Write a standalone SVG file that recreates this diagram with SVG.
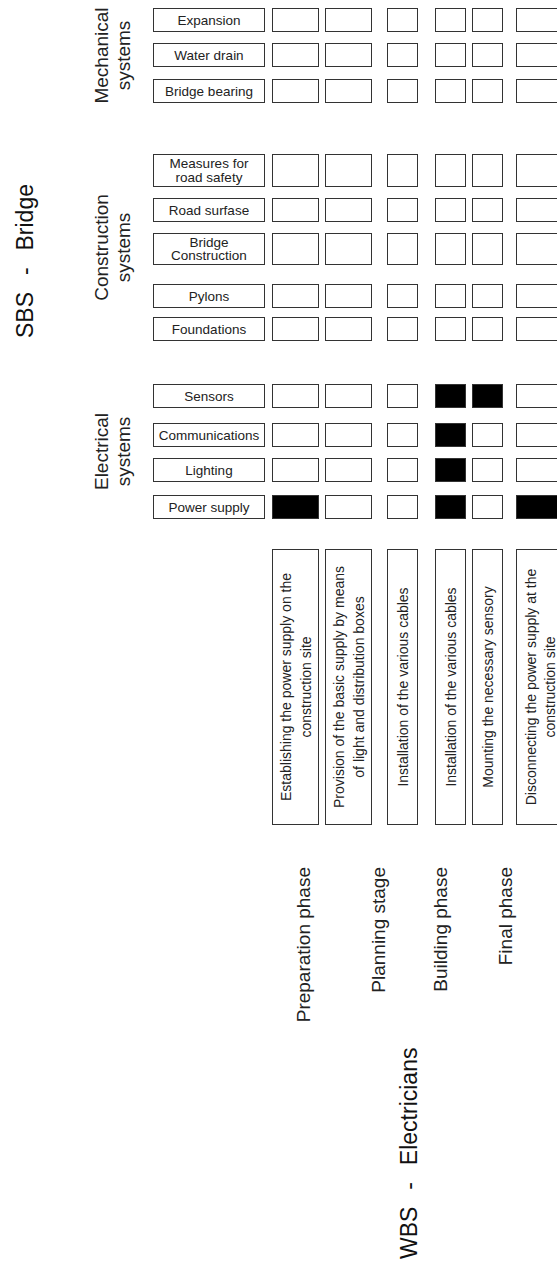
<svg xmlns="http://www.w3.org/2000/svg" width="557" height="1262" viewBox="0 0 557 1262">
<style>
text{font-family:"Liberation Sans",Arial,Helvetica,sans-serif;fill:#222}
.box{fill:#fff;stroke:#333;stroke-width:1}
.on{fill:#000;stroke:#333;stroke-width:1}
.lbl{font-size:13.5px;text-anchor:middle}
.task{font-size:14px;text-anchor:middle}
.grp{font-size:19px;text-anchor:middle}
.phase{font-size:19px;text-anchor:end}
.ttl{font-size:23px;fill:#111}
</style>
<rect width="557" height="1262" fill="#fff"/>

<g id="titles">
<text id="sbs-title" class="ttl" transform="translate(0,338) rotate(-90)" y="33">SBS<tspan dx="10.5"> -</tspan><tspan dx="10.5"> Bridge</tspan></text>
<text id="wbs-title" class="ttl" transform="translate(0,1259) rotate(-90)" y="417">WBS<tspan dx="10.5"> -</tspan><tspan dx="10.5"> Electricians</tspan></text>
</g>

<g id="groups">
<text id="grp-mech" class="grp" transform="translate(0,55.5) rotate(-90)"><tspan x="0" y="108">Mechanical</tspan><tspan x="0" y="130">systems</tspan></text>
<text id="grp-constr" class="grp" transform="translate(0,247.5) rotate(-90)"><tspan x="0" y="108">Construction</tspan><tspan x="0" y="130">systems</tspan></text>
<text id="grp-elec" class="grp" transform="translate(0,451.5) rotate(-90)"><tspan x="0" y="108">Electrical</tspan><tspan x="0" y="130">systems</tspan></text>
</g>

<g id="row-labels">
<g id="row-expansion"><rect class="box" x="153.5" y="8.5" width="111" height="23"/><text class="lbl" x="209" y="24.8">Expansion</text></g>
<g id="row-waterdrain"><rect class="box" x="153.5" y="43.5" width="111" height="23"/><text class="lbl" x="209" y="59.8">Water drain</text></g>
<g id="row-bearing"><rect class="box" x="153.5" y="79.5" width="111" height="23"/><text class="lbl" x="209" y="95.8">Bridge bearing</text></g>
<g id="row-measures"><rect class="box" x="153.5" y="154.5" width="111" height="32"/><text class="lbl"><tspan x="209" y="168">Measures for</tspan><tspan x="209" y="181.5">road safety</tspan></text></g>
<g id="row-road"><rect class="box" x="153.5" y="198.5" width="111" height="23"/><text class="lbl" x="209" y="214.8">Road surfase</text></g>
<g id="row-bridgeconstr"><rect class="box" x="153.5" y="233.5" width="111" height="31"/><text class="lbl"><tspan x="209" y="246.5">Bridge</tspan><tspan x="209" y="260">Construction</tspan></text></g>
<g id="row-pylons"><rect class="box" x="153.5" y="284.5" width="111" height="23"/><text class="lbl" x="209" y="300.8">Pylons</text></g>
<g id="row-foundations"><rect class="box" x="153.5" y="317.5" width="111" height="23"/><text class="lbl" x="209" y="333.8">Foundations</text></g>
<g id="row-sensors"><rect class="box" x="153.5" y="384.5" width="111" height="23"/><text class="lbl" x="209" y="400.8">Sensors</text></g>
<g id="row-comm"><rect class="box" x="153.5" y="423.5" width="111" height="23"/><text class="lbl" x="209" y="439.8">Communications</text></g>
<g id="row-lighting"><rect class="box" x="153.5" y="458.5" width="111" height="23"/><text class="lbl" x="209" y="474.8">Lighting</text></g>
<g id="row-power"><rect class="box" x="153.5" y="495.5" width="111" height="23"/><text class="lbl" x="209" y="511.8">Power supply</text></g>
</g>

<g id="cells">
<g id="cells-expansion">
<rect class="box" x="272.5" y="8.5" width="46" height="23"/><rect class="box" x="325.5" y="8.5" width="46" height="23"/><rect class="box" x="387.5" y="8.5" width="30" height="23"/><rect class="box" x="435.5" y="8.5" width="30" height="23"/><rect class="box" x="472.5" y="8.5" width="30" height="23"/><rect class="box" x="516.5" y="8.5" width="46" height="23"/>
</g>
<g id="cells-waterdrain">
<rect class="box" x="272.5" y="43.5" width="46" height="23"/><rect class="box" x="325.5" y="43.5" width="46" height="23"/><rect class="box" x="387.5" y="43.5" width="30" height="23"/><rect class="box" x="435.5" y="43.5" width="30" height="23"/><rect class="box" x="472.5" y="43.5" width="30" height="23"/><rect class="box" x="516.5" y="43.5" width="46" height="23"/>
</g>
<g id="cells-bearing">
<rect class="box" x="272.5" y="79.5" width="46" height="23"/><rect class="box" x="325.5" y="79.5" width="46" height="23"/><rect class="box" x="387.5" y="79.5" width="30" height="23"/><rect class="box" x="435.5" y="79.5" width="30" height="23"/><rect class="box" x="472.5" y="79.5" width="30" height="23"/><rect class="box" x="516.5" y="79.5" width="46" height="23"/>
</g>
<g id="cells-measures">
<rect class="box" x="272.5" y="154.5" width="46" height="32"/><rect class="box" x="325.5" y="154.5" width="46" height="32"/><rect class="box" x="387.5" y="154.5" width="30" height="32"/><rect class="box" x="435.5" y="154.5" width="30" height="32"/><rect class="box" x="472.5" y="154.5" width="30" height="32"/><rect class="box" x="516.5" y="154.5" width="46" height="32"/>
</g>
<g id="cells-road">
<rect class="box" x="272.5" y="198.5" width="46" height="23"/><rect class="box" x="325.5" y="198.5" width="46" height="23"/><rect class="box" x="387.5" y="198.5" width="30" height="23"/><rect class="box" x="435.5" y="198.5" width="30" height="23"/><rect class="box" x="472.5" y="198.5" width="30" height="23"/><rect class="box" x="516.5" y="198.5" width="46" height="23"/>
</g>
<g id="cells-bridgeconstr">
<rect class="box" x="272.5" y="233.5" width="46" height="31"/><rect class="box" x="325.5" y="233.5" width="46" height="31"/><rect class="box" x="387.5" y="233.5" width="30" height="31"/><rect class="box" x="435.5" y="233.5" width="30" height="31"/><rect class="box" x="472.5" y="233.5" width="30" height="31"/><rect class="box" x="516.5" y="233.5" width="46" height="31"/>
</g>
<g id="cells-pylons">
<rect class="box" x="272.5" y="284.5" width="46" height="23"/><rect class="box" x="325.5" y="284.5" width="46" height="23"/><rect class="box" x="387.5" y="284.5" width="30" height="23"/><rect class="box" x="435.5" y="284.5" width="30" height="23"/><rect class="box" x="472.5" y="284.5" width="30" height="23"/><rect class="box" x="516.5" y="284.5" width="46" height="23"/>
</g>
<g id="cells-foundations">
<rect class="box" x="272.5" y="317.5" width="46" height="23"/><rect class="box" x="325.5" y="317.5" width="46" height="23"/><rect class="box" x="387.5" y="317.5" width="30" height="23"/><rect class="box" x="435.5" y="317.5" width="30" height="23"/><rect class="box" x="472.5" y="317.5" width="30" height="23"/><rect class="box" x="516.5" y="317.5" width="46" height="23"/>
</g>
<g id="cells-sensors">
<rect class="box" x="272.5" y="384.5" width="46" height="23"/><rect class="box" x="325.5" y="384.5" width="46" height="23"/><rect class="box" x="387.5" y="384.5" width="30" height="23"/><rect class="on" x="435.5" y="384.5" width="30" height="23"/><rect class="on" x="472.5" y="384.5" width="30" height="23"/><rect class="box" x="516.5" y="384.5" width="46" height="23"/>
</g>
<g id="cells-comm">
<rect class="box" x="272.5" y="423.5" width="46" height="23"/><rect class="box" x="325.5" y="423.5" width="46" height="23"/><rect class="box" x="387.5" y="423.5" width="30" height="23"/><rect class="on" x="435.5" y="423.5" width="30" height="23"/><rect class="box" x="472.5" y="423.5" width="30" height="23"/><rect class="box" x="516.5" y="423.5" width="46" height="23"/>
</g>
<g id="cells-lighting">
<rect class="box" x="272.5" y="458.5" width="46" height="23"/><rect class="box" x="325.5" y="458.5" width="46" height="23"/><rect class="box" x="387.5" y="458.5" width="30" height="23"/><rect class="on" x="435.5" y="458.5" width="30" height="23"/><rect class="box" x="472.5" y="458.5" width="30" height="23"/><rect class="box" x="516.5" y="458.5" width="46" height="23"/>
</g>
<g id="cells-power">
<rect class="on" x="272.5" y="495.5" width="46" height="23"/><rect class="box" x="325.5" y="495.5" width="46" height="23"/><rect class="box" x="387.5" y="495.5" width="30" height="23"/><rect class="on" x="435.5" y="495.5" width="30" height="23"/><rect class="box" x="472.5" y="495.5" width="30" height="23"/><rect class="on" x="516.5" y="495.5" width="46" height="23"/>
</g>
</g>

<g id="tasks">
<g id="task-1"><rect class="box" x="272.5" y="549.5" width="46" height="275"/><text class="task" transform="translate(295.5,687) rotate(-90)"><tspan x="0" y="-5">Establishing the power supply on the</tspan><tspan x="0" y="15">construction site</tspan></text></g>
<g id="task-2"><rect class="box" x="325.5" y="549.5" width="46" height="275"/><text class="task" transform="translate(348.5,687) rotate(-90)"><tspan x="0" y="-5">Provision of the basic supply by means</tspan><tspan x="0" y="15">of light and distribution boxes</tspan></text></g>
<g id="task-3"><rect class="box" x="387.5" y="549.5" width="30" height="275"/><text class="task" transform="translate(402.5,687) rotate(-90)" x="0" y="5">Installation of the various cables</text></g>
<g id="task-4"><rect class="box" x="435.5" y="549.5" width="30" height="275"/><text class="task" transform="translate(450.5,687) rotate(-90)" x="0" y="5">Installation of the various cables</text></g>
<g id="task-5"><rect class="box" x="472.5" y="549.5" width="30" height="275"/><text class="task" transform="translate(487.5,687) rotate(-90)" x="0" y="5">Mounting the necessary sensory</text></g>
<g id="task-6"><rect class="box" x="516.5" y="549.5" width="46" height="275"/><text class="task" transform="translate(539.5,687) rotate(-90)"><tspan x="0" y="-4">Disconnecting the power supply at the</tspan><tspan x="0" y="15">construction site</tspan></text></g>
</g>

<g id="phases">
<text id="phase-prep" class="phase" transform="translate(0,867) rotate(-90)" y="310">Preparation phase</text>
<text id="phase-plan" class="phase" transform="translate(0,867) rotate(-90)" y="385">Planning stage</text>
<text id="phase-build" class="phase" transform="translate(0,867) rotate(-90)" y="447">Building phase</text>
<text id="phase-final" class="phase" transform="translate(0,867) rotate(-90)" y="512">Final phase</text>
</g>

<g id="connectors"/>
</svg>
